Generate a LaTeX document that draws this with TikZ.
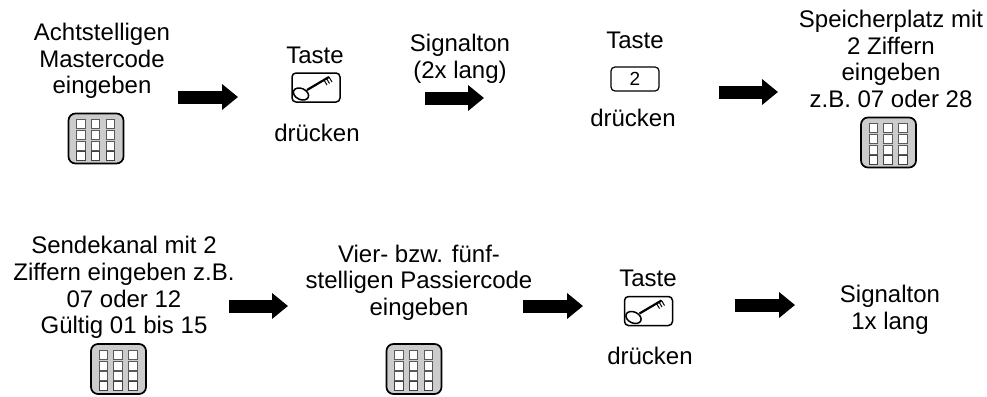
\documentclass[tikz,border=0pt]{standalone}
\usepackage{fontspec}
\setmainfont{Liberation Sans}
\usetikzlibrary{arrows.meta}
\tikzset{
  x=1pt,y=-1pt,
  label text/.style={align=center,font=\fontsize{24}{26.6}\selectfont,inner sep=0pt,text=black},
  flow arrow/.style={line width=13pt,-{Triangle[length=16pt,width=25pt,inset=0pt]},black},
  keyframe/.style={draw=black,line width=1.7pt,rounded corners=7pt},
  keypadbody/.pic={
    \draw[keyframe,fill=black!20] (-27.5,-25) rectangle (27.5,25);
    \foreach \cx in {-15,-0.5,14.5} {
      \foreach \cy in {-14.5,-3.5,7}
        \draw[fill=white,draw=black!65,line width=.8pt] (\cx-4.3,\cy-4.6) rectangle (\cx+4.3,\cy+4.6);
      \draw[fill=white,draw=black!75,line width=.9pt] (\cx-4.3,12.5) rectangle (\cx+4.3,21.5);
    }
  },
  keybody/.pic={
    \draw[draw=black,line width=1.5pt,rounded corners=4pt] (-24,-14.5) rectangle (24,14.5);
    \draw[line width=2.2pt] (-9,2.5) -- (13,-10.5);
    \draw[line width=1pt] (8,-7.5) -- (11,-2.5) (10.5,-9) -- (13.5,-4) (13,-10.5) -- (16,-5.5);
    \draw[fill=white,line width=1.5pt,rotate around={-25:(-15,6.5)}] (-15,6.5) ellipse (8 and 5.5);
  }
}
\begin{document}
\begin{tikzpicture}
\useasboundingbox (0,0) rectangle (987,396);
\node[label text] (t1) at (102,61) {Achtstelligen\\Mastercode\\eingeben};
\pic at (96,138.5) {keypadbody};
\node[label text] (t2a) at (315,55) {Taste};
\pic at (316,87.5) {keybody};
\node[label text] (t2b) at (317,133) {drücken};
\node[label text] (t3) at (460,58.5) {Signalton\\(2x lang)};
\node[label text] (t4a) at (635,40) {Taste};
\node[draw=black,line width=1.2pt,rounded corners=4pt,minimum width=48pt,minimum height=24pt,inner sep=0pt,font=\fontsize{19}{19}\selectfont] (k2) at (635,79) {2};
\node[label text] (t4b) at (633,118) {drücken};
\node[label text] (t5) at (891,59) {Speicherplatz mit\\2 Ziffern\\eingeben\\z.B. 07 oder 28};
\pic at (888.5,142.5) {keypadbody};
\node[label text] (t6) at (124,287.5) {Sendekanal mit 2\\Ziffern eingeben z.B.\\07 oder 12\\Gültig 01 bis 15};
\pic at (118.5,369) {keypadbody};
\node[label text] (t7) at (419,282.5) {Vier- bzw. fünf-\\stelligen Passiercode\\eingeben};
\pic at (414,369) {keypadbody};
\node[label text] (t8a) at (648,278) {Taste};
\pic at (648.5,311) {keybody};
\node[label text] (t8b) at (650,356) {drücken};
\node[label text] (t9) at (890,310) {Signalton\\1x lang};
\coordinate (a1s) at (178,97); \coordinate (a1e) at (238,97);
\coordinate (a2s) at (425,98); \coordinate (a2e) at (484,98);
\coordinate (a3s) at (719,92); \coordinate (a3e) at (778,92);
\coordinate (a4s) at (229,306); \coordinate (a4e) at (288,306);
\coordinate (a5s) at (523,306); \coordinate (a5e) at (583,306);
\coordinate (a6s) at (735,305); \coordinate (a6e) at (795,305);
\foreach \n in {1,...,6} \draw[flow arrow] (a\n s) -- (a\n e);
\end{tikzpicture}
\end{document}
